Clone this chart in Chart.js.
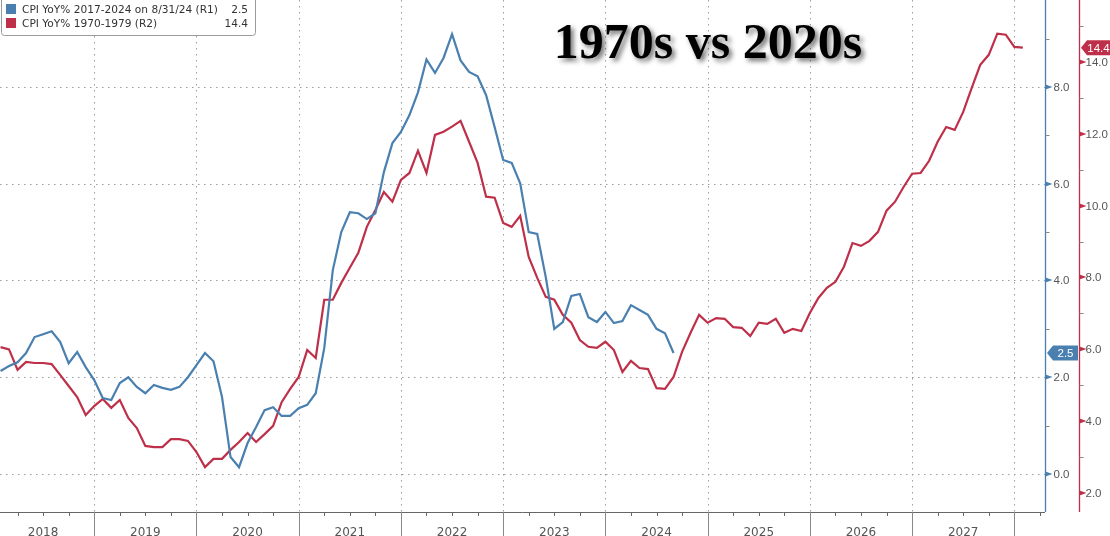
<!DOCTYPE html>
<html>
<head>
<meta charset="utf-8">
<script src="https://cdn.jsdelivr.net/npm/chart.js@4"></script>
<style>
  html, body { margin: 0; padding: 0; background: #fff; }
  #wrap { width: 1110px; height: 536px; position: relative; }
</style>
</head>
<body>
<div id="wrap"><canvas id="canvas"></canvas></div>
<script>
// tháng tính từ đầu 2018 (1 = cuối tháng 1/2018)
const yearLabels = ['2018', '2019', '2020', '2021', '2022', '2023', '2024', '2025', '2026', '2027']
const r1Ticks = [0, 2, 4, 6, 8]
const r2Ticks = [2, 4, 6, 8, 10, 12, 14]

// CPI YoY% 2017-2024 (R1)
const cpi2020s = [
  2.13, 2.23, 2.31, 2.50, 2.83, 2.89, 2.95, 2.73, 2.29, 2.52, 2.21, 1.94,
  1.57, 1.53, 1.88, 2.00, 1.80, 1.67, 1.84, 1.78, 1.74, 1.80, 2.00, 2.25,
  2.50, 2.33, 1.59, 0.35, 0.14, 0.64, 0.97, 1.32, 1.38, 1.20, 1.20, 1.36,
  1.43, 1.67, 2.60, 4.21, 5.00, 5.41, 5.39, 5.27, 5.39, 6.24, 6.84, 7.07,
  7.42, 7.89, 8.57, 8.29, 8.60, 9.09, 8.55, 8.31, 8.22, 7.83, 7.17, 6.49,
  6.43, 6.01, 5.00, 4.96, 4.07, 3.00, 3.14, 3.68, 3.72, 3.24, 3.14, 3.35,
  3.12, 3.16, 3.49, 3.39, 3.29, 3.00, 2.91, 2.50
]

// CPI YoY% 1970-1979 (R2)
const cpi1970s = [
  6.06, 6.00, 5.43, 5.65, 5.62, 5.62, 5.59, 5.29, 4.98, 4.67, 4.17, 4.42,
  4.62, 4.37, 4.59, 4.09, 3.81, 3.31, 3.28, 3.28, 3.50, 3.50, 3.45, 3.14,
  2.72, 2.95, 2.95, 3.20, 3.42, 3.67, 3.42, 3.64, 3.87, 4.53, 4.90, 5.23,
  5.98, 5.76, 7.38, 7.38, 7.85, 8.27, 8.69, 9.41, 9.88, 10.38, 10.11, 10.72,
  10.91, 11.53, 10.91, 11.97, 12.06, 12.20, 12.36, 11.78, 11.19, 10.25, 10.22, 9.52,
  9.41, 9.72, 8.57, 7.99, 7.46, 7.38, 6.96, 6.74, 6.26, 6.07, 6.04, 6.21,
  5.98, 5.37, 5.68, 5.48, 5.45, 4.92, 4.90, 5.23, 5.93, 6.46, 6.96, 6.74,
  6.87, 6.85, 6.62, 6.60, 6.37, 6.74, 6.71, 6.85, 6.46, 6.57, 6.51, 7.01,
  7.43, 7.71, 7.88, 8.30, 8.96, 8.88, 9.02, 9.27, 9.86, 10.11, 10.52, 10.89,
  10.91, 11.25, 11.78, 12.19, 12.11, 12.61, 13.28, 13.92, 14.20, 14.79, 14.76, 14.42,
  14.40
]

const legendNames = ['CPI YoY% 2017-2024 on 8/31/24 (R1)', 'CPI YoY% 1970-1979 (R2)']
const blue = '#4a80b0'
const red = '#be3049'
const grey = '#555'
const tickFont = '11.5px "Liberation Sans"'

const toPoints = arr => arr.map((v, i) => ({ x: i + 1, y: v }))

function line(ctx, x1, y1, x2, y2) {
  ctx.beginPath()
  ctx.moveTo(x1, y1)
  ctx.lineTo(x2, y2)
  ctx.stroke()
}

// nhãn giá trị cuối (mũi tên trái)
function tag(ctx, x, y, w, text, color) {
  ctx.fillStyle = color
  ctx.beginPath()
  ctx.moveTo(x, y)
  ctx.lineTo(x + 6, y - 7.5)
  ctx.lineTo(x + w, y - 7.5)
  ctx.lineTo(x + w, y + 7.5)
  ctx.lineTo(x + 6, y + 7.5)
  ctx.closePath()
  ctx.fill()
  ctx.fillStyle = '#fff'
  ctx.font = tickFont
  ctx.textAlign = 'center'
  ctx.textBaseline = 'middle'
  ctx.fillText(text, x + 3 + w / 2, y + 1)
}

const decor = {
  id: 'decor',
  beforeDatasetsDraw(chart) {
    const { ctx, chartArea: a, scales } = chart
    ctx.save()
    ctx.strokeStyle = '#9c9c9c'
    ctx.lineWidth = 1
    ctx.setLineDash([1.5, 4.5])
    r1Ticks.forEach(v => {
      const py = Math.round(scales.y1.getPixelForValue(v)) + 0.5
      line(ctx, a.left, py, a.right, py)
    })
    yearLabels.forEach((lab, i) => {
      const px = Math.round(scales.x.getPixelForValue((i + 1) * 12)) + 0.5
      line(ctx, px, a.top, px, a.bottom)
    })
    ctx.restore()
  },
  afterDraw(chart) {
    const { ctx, chartArea: a, scales } = chart
    const { x, y1, y2 } = scales
    ctx.save()

    // trục hoành
    ctx.strokeStyle = '#666'
    ctx.lineWidth = 1
    line(ctx, a.left, a.bottom + 0.5, a.right, a.bottom + 0.5)
    for (let m = 3; m <= 123; m += 3) {
      const px = Math.round(x.getPixelForValue(m)) + 0.5
      if (px > a.right) break
      if (m % 12 === 0) {
        ctx.strokeStyle = '#888'
        line(ctx, px, a.bottom, px, 536)
      } else {
        ctx.strokeStyle = '#666'
        line(ctx, px, a.bottom, px, a.bottom + 4)
      }
    }
    ctx.fillStyle = grey
    ctx.font = '12px "DejaVu Sans"'
    ctx.textAlign = 'center'
    ctx.textBaseline = 'alphabetic'
    yearLabels.forEach((lab, i) => {
      ctx.fillText(lab, x.getPixelForValue(i * 12 + 6), 536)
    })

    // trục R1
    const bx = a.right + 0.5
    ctx.strokeStyle = blue
    ctx.lineWidth = 1.3
    line(ctx, bx, a.top, bx, a.bottom)
    ctx.lineWidth = 1
    ctx.strokeStyle = '#888'
    for (let v = 1; v <= 9; v += 2) {
      const py = Math.round(y1.getPixelForValue(v)) + 0.5
      line(ctx, bx, py, bx + 4, py)
    }
    ctx.font = tickFont
    ctx.textAlign = 'left'
    ctx.textBaseline = 'middle'
    r1Ticks.forEach(v => {
      const py = Math.round(y1.getPixelForValue(v))
      ctx.fillStyle = blue
      ctx.beginPath()
      ctx.moveTo(bx, py - 2.5)
      ctx.lineTo(bx + 7, py)
      ctx.lineTo(bx, py + 2.5)
      ctx.fill()
      ctx.fillStyle = grey
      ctx.fillText(v.toFixed(1), bx + 8, py + 1)
    })

    // trục R2
    const rx = a.right + 34.5
    ctx.strokeStyle = red
    ctx.lineWidth = 1.3
    line(ctx, rx, a.top, rx, a.bottom)
    ctx.lineWidth = 1
    ctx.strokeStyle = '#888'
    for (let v = 3; v <= 15; v += 2) {
      const py = Math.round(y2.getPixelForValue(v)) + 0.5
      line(ctx, rx, py, rx + 4, py)
    }
    r2Ticks.forEach(v => {
      const py = Math.round(y2.getPixelForValue(v))
      ctx.fillStyle = red
      ctx.beginPath()
      ctx.moveTo(rx, py - 2.5)
      ctx.lineTo(rx + 7, py)
      ctx.lineTo(rx, py + 2.5)
      ctx.fill()
      ctx.fillStyle = grey
      ctx.fillText(v.toFixed(1), rx + 6, py + 1)
    })

    // nhãn giá trị cuối
    const lastB = cpi2020s[cpi2020s.length - 1]
    const lastR = cpi1970s[cpi1970s.length - 1]
    tag(ctx, a.right + 2, y1.getPixelForValue(lastB), 31, lastB.toFixed(1), blue)
    tag(ctx, a.right + 36, y2.getPixelForValue(lastR), 29, lastR.toFixed(1), red)

    // chú thích
    ctx.fillStyle = '#fff'
    ctx.strokeStyle = '#9a9a9a'
    ctx.beginPath()
    ctx.roundRect(1.5, -4.5, 254, 40, 3)
    ctx.fill()
    ctx.stroke()
    ctx.font = '10.6px "DejaVu Sans"'
    ctx.textBaseline = 'middle'
    const vals = [lastB, lastR]
    ;[blue, red].forEach((c, i) => {
      const cy = 9 + i * 14
      ctx.fillStyle = c
      ctx.fillRect(6, cy - 5, 10, 10)
      ctx.fillStyle = '#333'
      ctx.textAlign = 'left'
      ctx.fillText(legendNames[i], 22, cy + 1)
      ctx.textAlign = 'right'
      ctx.fillText(vals[i].toFixed(1), 248, cy + 1)
    })

    // tiêu đề
    ctx.font = 'bold 50px "Liberation Serif"'
    ctx.textAlign = 'center'
    ctx.textBaseline = 'alphabetic'
    ctx.shadowColor = 'rgba(0,0,0,0.55)'
    ctx.shadowBlur = 5
    ctx.shadowOffsetX = 3
    ctx.shadowOffsetY = 3
    ctx.fillStyle = '#000'
    ctx.fillText('1970s vs 2020s', 708, 58)
    ctx.restore()
  }
}

const data = {
  datasets: [
    {
      label: legendNames[0],
      data: toPoints(cpi2020s),
      borderColor: blue,
      borderWidth: 2.2,
      pointRadius: 0,
      yAxisID: 'y1',
    },
    {
      label: legendNames[1],
      data: toPoints(cpi1970s),
      borderColor: red,
      borderWidth: 2.2,
      pointRadius: 0,
      yAxisID: 'y2',
    },
  ],
}

const config = {
  type: 'line',
  data: data,
  options: {
    responsive: true,
    maintainAspectRatio: false,
    animation: false,
    layout: { padding: { left: 0, top: 0, right: 65, bottom: 24 } },
    plugins: { legend: { display: false }, tooltip: { enabled: false } },
    scales: {
      x: { type: 'linear', min: 0.94, max: 123.6, display: false },
      y1: { type: 'linear', min: -0.786, max: 9.798, display: false },
      y2: { type: 'linear', min: 1.471, max: 15.726, display: false },
    },
  },
  plugins: [decor],
}

const canvas = document.getElementById('canvas')
const chart = new Chart(canvas, config)
</script>
</body>
</html>
